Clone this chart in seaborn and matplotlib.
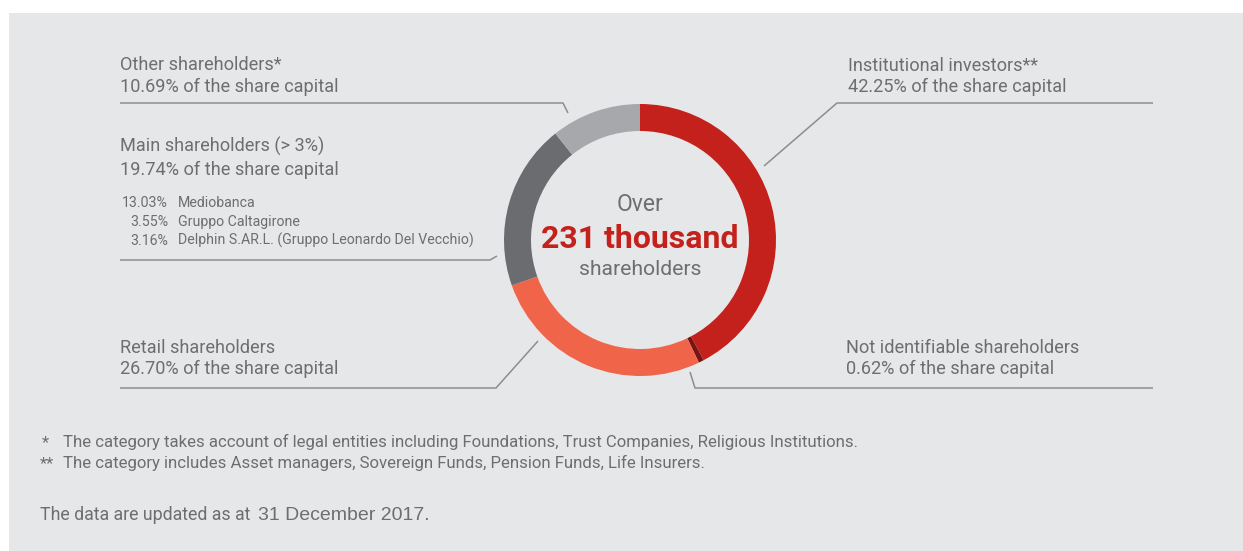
import matplotlib
matplotlib.use("Agg")
import matplotlib.pyplot as plt
from matplotlib import font_manager
from matplotlib.patches import Rectangle
import seaborn as sns

# ---- data ----
categories = ["Institutional investors", "Not identifiable shareholders",
              "Retail shareholders", "Main shareholders", "Other shareholders"]
shares = [42.25, 0.62, 26.70, 19.74, 10.69]
colors = ["#c4211c", "#7a1414", "#f0644a", "#6b6c70", "#a7a8ac"]
main_pct = ["13.03%", "3.55%", "3.16%"]
main_names = ["Mediobanca", "Gruppo Caltagirone", "Delphin S.AR.L. (Gruppo Leonardo Del Vecchio)"]

sns.set_style("white")
avail = {f.name for f in font_manager.fontManager.ttflist}
narrow = "Liberation Sans Narrow" if "Liberation Sans Narrow" in avail else "Roboto"
regular = "Liberation Sans"
plt.rcParams["font.family"] = [narrow, "DejaVu Sans"]

W, H = 1243, 551
fig = plt.figure(figsize=(W / 100, H / 100), dpi=100, facecolor="white")
ax = fig.add_axes([0, 0, 1, 1])
ax.set_xlim(0, W)
ax.set_ylim(0, H)
ax.set_aspect("equal")
ax.axis("off")

def Y(y):
    return H - y

ax.add_patch(Rectangle((9, 0), W - 9, H - 13, facecolor="#e6e7e8", edgecolor="none", zorder=0))

cx, cy, R = 640, 240, 136
ax.pie(shares, colors=colors, startangle=90, counterclock=False,
       center=(cx, Y(cy)), radius=R, frame=True,
       wedgeprops=dict(width=27, linewidth=0))
ax.set_xlim(0, W)
ax.set_ylim(0, H)
ax.axis("off")

tc = "#6d6e71"
lc = "#8c8d90"
fs = 13.1

def line(pts):
    xs = [p[0] for p in pts]
    ys = [Y(p[1]) for p in pts]
    ax.plot(xs, ys, color=lc, lw=1.1, solid_capstyle="butt", zorder=3)

def txt(x, y, s, size=fs, **kw):
    kw.setdefault("color", tc)
    kw.setdefault("va", "baseline")
    ax.text(x, Y(y), s, fontsize=size, **kw)

# left labels
txt(120, 70, "Other shareholders*")
txt(120, 92, "10.69% of the share capital")
line([(120, 103), (563, 103), (568, 113)])

txt(120, 152, "Main shareholders (> 3%)")
txt(120, 175, "19.74% of the share capital")
for i, (p, n) in enumerate(zip(main_pct, main_names)):
    yb = 207 + i * 19
    txt(168, yb, p, size=10.2, ha="right")
    txt(178, yb, n, size=10.2)
line([(120, 260), (490, 260), (497, 256)])

txt(120, 353, "Retail shareholders")
txt(120, 374, "26.70% of the share capital")
line([(120, 388), (496, 388), (538, 341)])

# right labels
txt(848, 71, "Institutional investors**")
txt(848, 92, "42.25% of the share capital")
line([(1153, 103), (837, 103), (764, 166)])

txt(846, 353, "Not identifiable shareholders")
txt(846, 374, "0.62% of the share capital")
line([(690, 372), (695, 388), (1153, 388)])

# center
txt(cx, 211, "Over", size=16.5, ha="center")
txt(cx, 248, "231 thousand", size=23, ha="center", color="#c4211c", fontweight="bold")
txt(cx, 275, "shareholders", size=15.2, ha="center")

# footnotes
txt(42, 447, "*", size=12)
txt(63, 447, "The category takes account of legal entities including Foundations, Trust Companies, Religious Institutions.", size=12.1)
txt(40, 468, "**", size=12)
txt(63, 468, "The category includes Asset managers, Sovereign Funds, Pension Funds, Life Insurers.", size=12.1)
txt(40, 520, "The data are updated as at", size=12.8)
txt(258, 520, "31 December 2017.", size=14, family=[regular, "DejaVu Sans"])

fig.savefig("out.png", dpi=100, facecolor="white")
